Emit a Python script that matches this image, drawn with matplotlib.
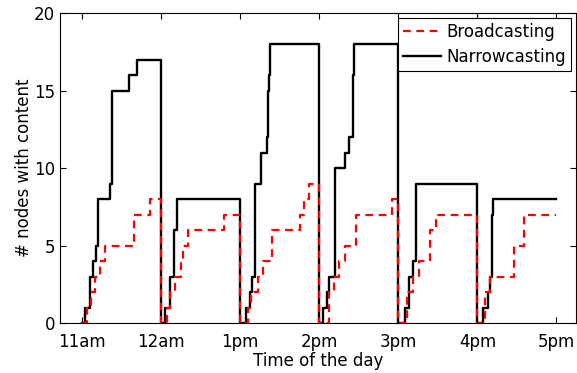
import matplotlib
matplotlib.use("Agg")
import matplotlib.pyplot as plt

plt.rcParams['font.family'] = ['DejaVu Sans']

# Time of day in hours (11.0 = 11am), values change at these instants (step 'post')
narrow_t = [11.00, 11.034, 11.098, 11.14, 11.17, 11.195, 11.35, 11.373, 11.59, 11.69,
            11.994, 12.048, 12.11, 12.16, 12.196,
            12.999, 13.075, 13.125, 13.15, 13.19, 13.26, 13.34, 13.355, 13.365, 13.375,
            14.0, 14.046, 14.097, 14.127, 14.2, 14.33, 14.38, 14.42, 14.44,
            15.0, 15.08, 15.13, 15.19, 15.22,
            15.99, 16.075, 16.13, 16.16, 16.18, 16.2, 17.0]
narrow_n = [0, 1, 3, 4, 5, 8, 9, 15, 16, 17,
            0, 1, 3, 6, 8,
            0, 1, 2, 3, 9, 11, 12, 15, 16, 18,
            0, 1, 2, 3, 10, 11, 12, 16, 18,
            0, 1, 3, 4, 9,
            0, 1, 2, 3, 7, 8, 8]

broad_t = [11.00, 11.056, 11.106, 11.16, 11.224, 11.288, 11.655, 11.858,
           12.0, 12.07, 12.11, 12.175, 12.25, 12.28, 12.34, 12.79,
           13.0, 13.1, 13.14, 13.23, 13.29, 13.40, 13.75, 13.81, 13.87,
           14.0, 14.12, 14.19, 14.245, 14.33, 14.46, 14.92,
           15.0, 15.11, 15.19, 15.26, 15.4, 15.47,
           16.0, 16.1, 16.16, 16.46, 16.59, 17.0]
broad_n = [0, 1, 2, 3, 4, 5, 7, 8,
           0, 1, 2, 3, 4, 5, 6, 7,
           0, 1, 2, 3, 4, 6, 7, 8, 9,
           0, 2, 3, 4, 5, 7, 8,
           0, 2, 3, 4, 6, 7,
           0, 2, 3, 5, 7, 7]

tick_hours = [11, 12, 13, 14, 15, 16, 17]
tick_labels = ["11am", "12am", "1pm", "2pm", "3pm", "4pm", "5pm"]

fig = plt.figure(figsize=(5.77, 3.73), dpi=100)
ax = fig.add_axes([0.104, 0.134, 0.894, 0.831])

ax.step(broad_t, broad_n, where="post", color="red", lw=1.6,
        linestyle=(0, (3.5, 2.5)), label="Broadcasting", zorder=3)
ax.step(narrow_t, narrow_n, where="post", color="black", lw=1.7,
        label="Narrowcasting", zorder=2)

ax.set_xlim(10.72, 17.245)
ax.set_ylim(0, 20)
ax.set_xticks(tick_hours)
ax.set_xticklabels(tick_labels)
ax.set_yticks([0, 5, 10, 15, 20])
ax.tick_params(direction="in", top=True, right=True, labelsize=12, length=4)
ax.tick_params(axis="x", pad=7)
ax.tick_params(axis="y", pad=3.5)
ax.set_xlabel("Time of the day", fontsize=12, labelpad=1)
ax.set_ylabel("# nodes with content", fontsize=12, labelpad=1)

leg = ax.legend(loc="upper right", fontsize=12, fancybox=False, framealpha=1,
                edgecolor="black", borderaxespad=0.3, handlelength=2.3,
                handletextpad=0.3, borderpad=0.3, labelspacing=0.4)
leg.get_frame().set_linewidth(0.8)

fig.savefig("out.png", dpi=100)
